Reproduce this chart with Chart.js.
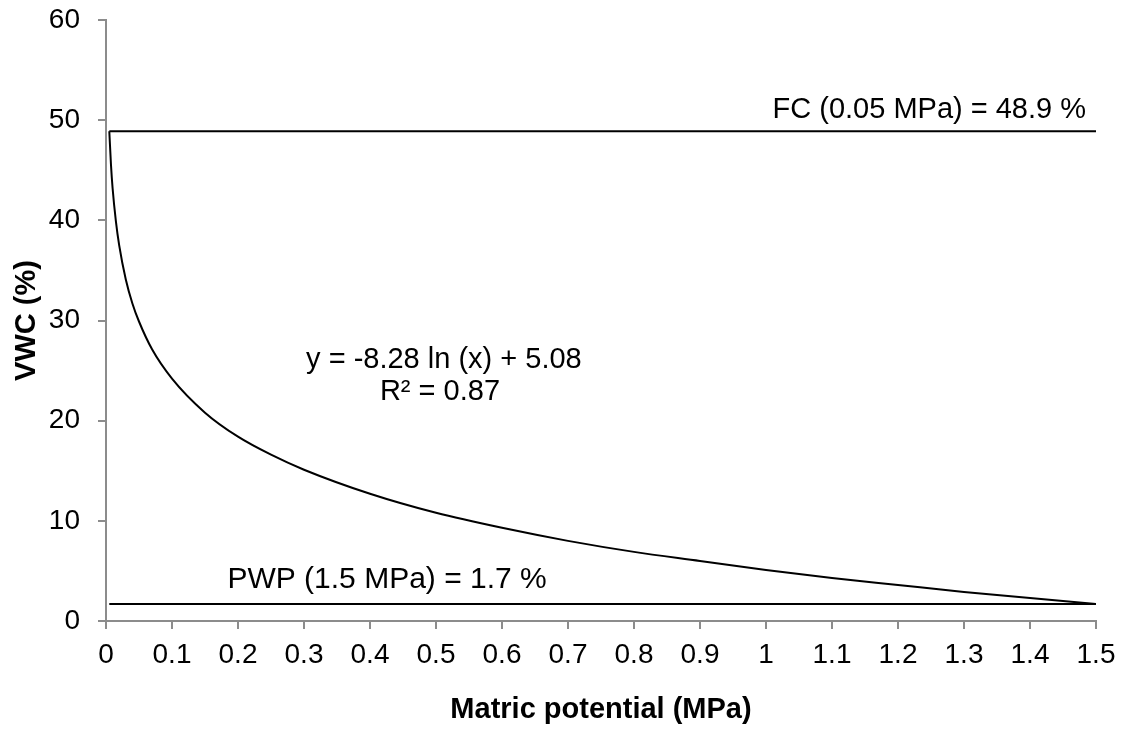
<!DOCTYPE html>
<html>
<head>
<meta charset="utf-8">
<script src="https://cdn.jsdelivr.net/npm/chart.js@4.4.1/dist/chart.umd.min.js"></script>
<style>
  html, body { margin: 0; padding: 0; background: #fff; }
  #wrap { width: 1130px; height: 731px; }
</style>
</head>
<body>
<div id="wrap"><canvas id="lineChart" width="1130" height="731"></canvas></div>
<script>
// Curva de retención
const potencial = [0.005, 0.0075, 0.01, 0.015, 0.02, 0.03, 0.04, 0.05, 0.07, 0.1, 0.15, 0.2, 0.25, 0.3, 0.4, 0.5, 0.6, 0.7, 0.8, 0.9, 1.0, 1.1, 1.2, 1.3, 1.4, 1.5];
const vwc = [48.9, 45.6, 43.2, 39.9, 37.5, 34.1, 31.7, 29.9, 27.1, 24.2, 20.8, 18.4, 16.6, 15.1, 12.7, 10.8, 9.3, 8.0, 6.9, 6.0, 5.1, 4.3, 3.6, 2.9, 2.3, 1.7];

// Líneas horizontales FC y PWP
const lineasX = [0.005, 1.5];
const fc = [48.9, 48.9];
const pwp = [1.7, 1.7];

// Textos
const textoFC = 'FC (0.05 MPa) = 48.9 %';
const textoPWP = 'PWP (1.5 MPa) = 1.7 %';
const ecuacion = ['y = -8.28 ln (x) + 5.08', 'R² = 0.87'];
const tituloX = 'Matric potential (MPa)';
const tituloY = 'VWC (%)';

const fuente = "'Liberation Sans', Arial, sans-serif";
const gris = '#8c8c8c';

function puntos(xs, ys) {
  return xs.map((x, i) => ({ x: x, y: ys[i] }));
}

// Plugin para los textos dentro del gráfico
const anotaciones = {
  id: 'anotaciones',
  afterDatasetsDraw(chart) {
    const ctx = chart.ctx;
    const x = chart.scales.x;
    const y = chart.scales.y;
    ctx.save();
    ctx.fillStyle = '#000';
    ctx.font = '29px ' + fuente;
    ctx.textBaseline = 'alphabetic';

    ctx.textAlign = 'right';
    ctx.fillText(textoFC, x.getPixelForValue(1.5) - 10, y.getPixelForValue(48.9) - 13);

    ctx.font = '30px ' + fuente;
    ctx.textAlign = 'left';
    ctx.fillText(textoPWP, x.getPixelForValue(0.184), y.getPixelForValue(1.7) - 16);

    ctx.font = '29px ' + fuente;
    ctx.textAlign = 'center';
    ctx.textBaseline = 'middle';
    ctx.fillText(ecuacion[0], x.getPixelForValue(0.512), y.getPixelForValue(26.1));
    ctx.fillText(ecuacion[1], x.getPixelForValue(0.506), y.getPixelForValue(22.9));
    ctx.restore();
  }
};

const ctx = document.getElementById('lineChart').getContext('2d');

const lineChart = new Chart(ctx, {
  type: 'scatter',
  data: {
    datasets: [{
      data: puntos(potencial, vwc),
      showLine: true,
      borderColor: '#000',
      borderWidth: 2,
      pointRadius: 0,
      cubicInterpolationMode: 'monotone'
    }, {
      data: puntos(lineasX, fc),
      showLine: true,
      borderColor: '#000',
      borderWidth: 2,
      pointRadius: 0
    }, {
      data: puntos(lineasX, pwp),
      showLine: true,
      borderColor: '#000',
      borderWidth: 2,
      pointRadius: 0
    }]
  },
  options: {
    responsive: false,
    animation: false,
    devicePixelRatio: 1,
    layout: { padding: { top: 20, right: 34, left: 0, bottom: 0 } },
    plugins: {
      legend: { display: false },
      tooltip: { enabled: false }
    },
    scales: {
      x: {
        type: 'linear',
        min: 0,
        max: 1.5,
        afterFit(scale) {
          scale.height = 110;
          scale.paddingLeft = 0;
          scale.paddingRight = 0;
        },
        border: { color: gris, width: 2 },
        grid: { drawOnChartArea: false, tickLength: 8, color: gris, lineWidth: 2 },
        ticks: {
          stepSize: 0.1,
          color: '#000',
          padding: 9,
          maxRotation: 0,
          font: { family: fuente, size: 28 },
          callback: v => String(Math.round(v * 10) / 10)
        },
        title: {
          display: true,
          text: tituloX,
          color: '#000',
          font: { family: fuente, size: 29, weight: 'bold' },
          padding: { top: 25 }
        }
      },
      y: {
        min: 0,
        max: 60,
        afterFit(scale) {
          scale.width = 106;
          scale.paddingTop = 0;
          scale.paddingBottom = 0;
        },
        border: { color: gris, width: 2 },
        grid: { drawOnChartArea: false, tickLength: 8, color: gris, lineWidth: 2 },
        ticks: {
          stepSize: 10,
          color: '#000',
          padding: 18,
          font: { family: fuente, size: 28 }
        },
        title: {
          display: true,
          text: tituloY,
          color: '#000',
          font: { family: fuente, size: 29, weight: 'bold' },
          padding: { top: 10, bottom: 10 }
        }
      }
    }
  },
  plugins: [anotaciones]
});
</script>
</body>
</html>
